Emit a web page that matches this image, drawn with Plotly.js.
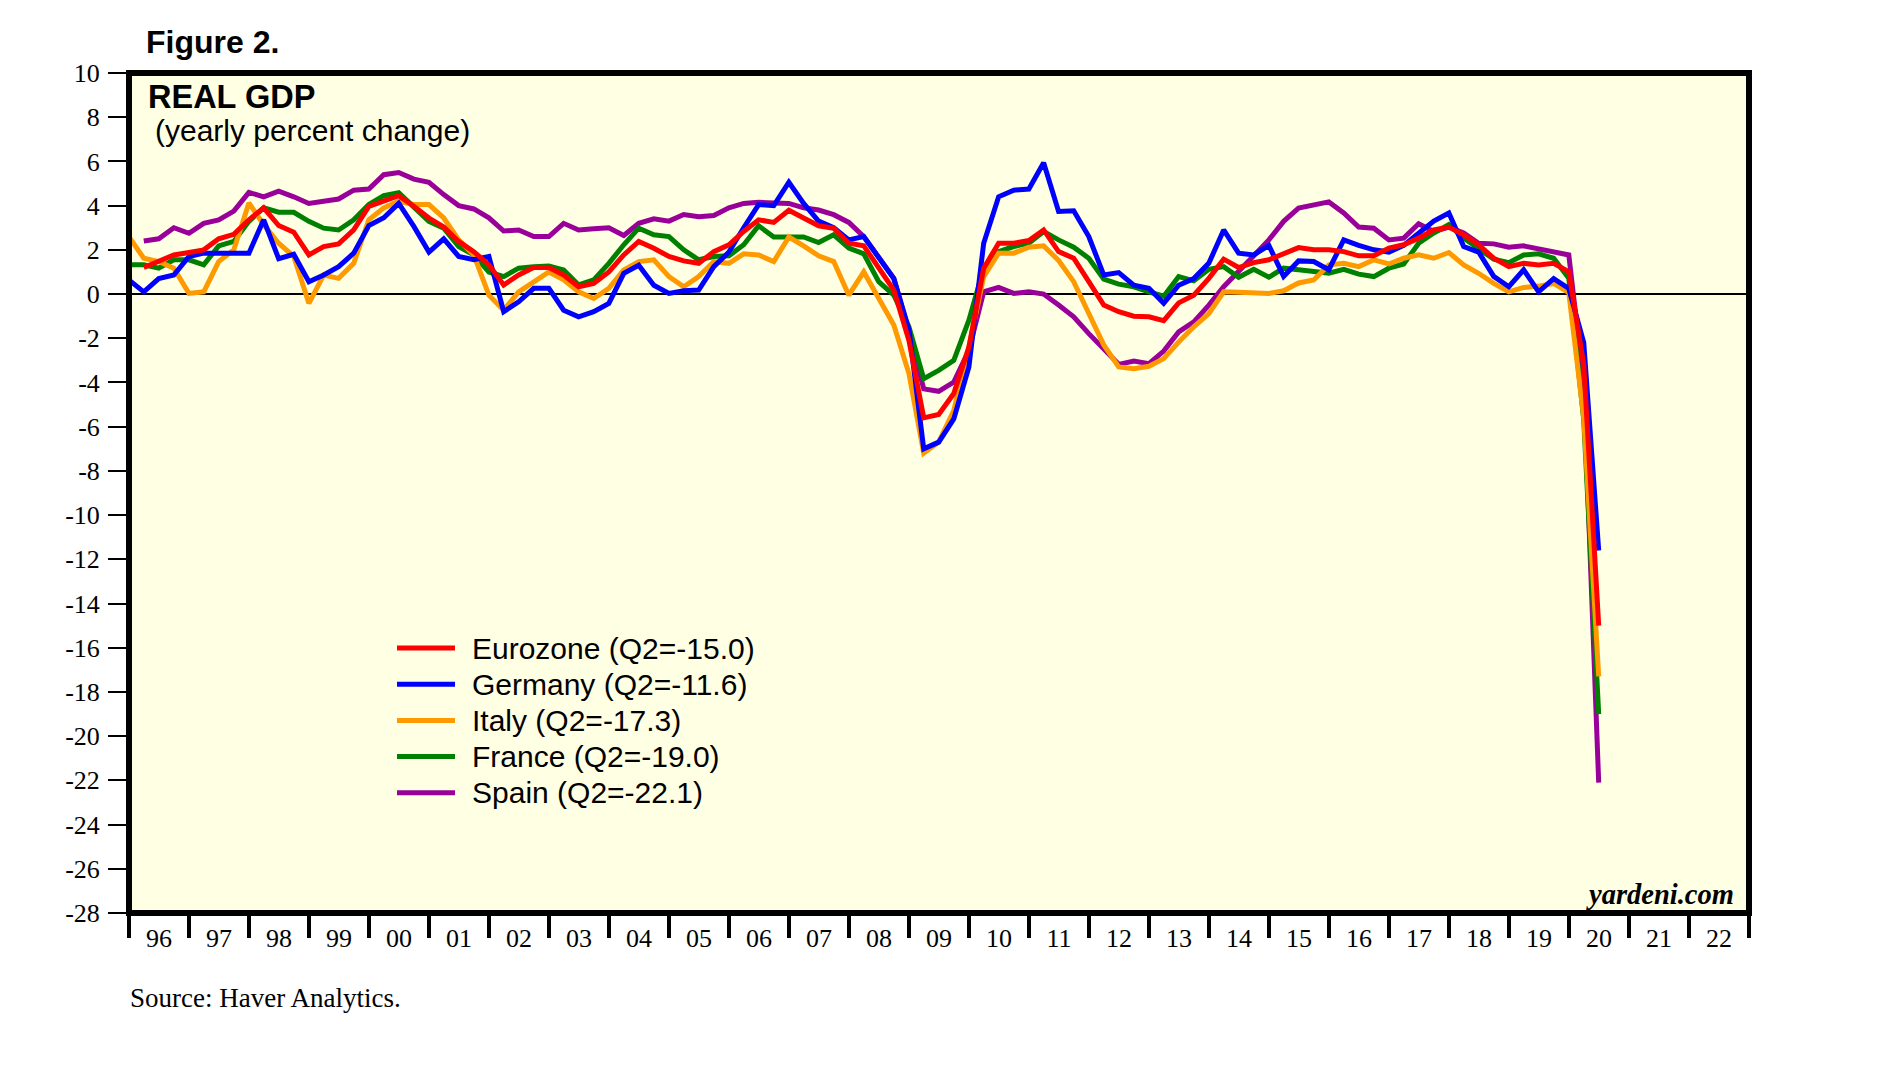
<!DOCTYPE html>
<html>
<head>
<meta charset="utf-8">
<script src="https://cdn.plot.ly/plotly-3.0.1.min.js"></script>
<style>
html, body { margin: 0; padding: 0; background: #ffffff; }
#chart { width: 1902px; height: 1085px; }
</style>
</head>
<body>
<div id="chart"></div>
<script>
// ---------------- DATA (yearly % change in real GDP, quarterly) ----------------
// Quarters run from 1995Q4 to 2020Q2 (99 quarters); each is plotted at the end of its quarter.
const firstYear = 1995;
const firstQ = 4;
const quarterCount = 99;

const seriesNames = [
  "Eurozone (Q2=-15.0)",
  "Germany (Q2=-11.6)",
  "Italy (Q2=-17.3)",
  "France (Q2=-19.0)",
  "Spain (Q2=-22.1)"
];
const seriesColors = ["#ff0000", "#0000ff", "#ff9900", "#008000", "#990099"];

const eurozone = [null,
  1.2, 1.47, 1.77, 1.88, 2.0, 2.5, 2.7, 3.36, 3.9, 3.1, 2.8, 1.77, 2.15, 2.27, 2.9, 3.97,
  4.2, 4.45, 3.97, 3.44, 3.03, 2.38, 1.92, 1.32, 0.41, 0.86, 1.2, 1.2, 0.86, 0.33, 0.48, 1.0,
  1.77, 2.38, 2.07, 1.7, 1.5, 1.39, 1.92, 2.23, 2.83, 3.36, 3.24, 3.79, 3.44, 3.09, 2.98, 2.3,
  2.18, 1.17, 0.18, -2.1, -5.6, -5.45, -4.5, -2.4, 1.17, 2.3, 2.3, 2.42, 2.9, 1.92, 1.62, 0.56,
  -0.5, -0.8, -1.0, -1.03, -1.2, -0.4, -0.05, 0.71, 1.58, 1.2, 1.42, 1.55, 1.82, 2.1, 2.0, 2.0,
  1.92, 1.73, 1.73, 2.08, 2.23, 2.53, 2.9, 3.03, 2.68, 2.23, 1.62, 1.24, 1.39, 1.32, 1.39, 1.0,
  -3.2, -15.0];

const germany = [0.64,
  0.1, 0.7, 0.86, 1.7, 1.85, 1.85, 1.85, 1.85, 3.36, 1.6, 1.8, 0.56, 0.86, 1.24, 1.85, 3.1,
  3.45, 4.1, 3.06, 1.9, 2.5, 1.7, 1.55, 1.7, -0.8, -0.35, 0.26, 0.26, -0.73, -1.03, -0.8, -0.42,
  0.94, 1.3, 0.4, 0.03, 0.15, 0.18, 1.24, 1.9, 3.0, 4.05, 4.0, 5.06, 4.1, 3.3, 3.0, 2.45,
  2.6, 1.7, 0.7, -1.6, -7.0, -6.7, -5.65, -3.3, 2.3, 4.4, 4.7, 4.75, 5.94, 3.74, 3.77, 2.6,
  0.86, 0.97, 0.4, 0.26, -0.42, 0.4, 0.7, 1.4, 2.9, 1.85, 1.77, 2.2, 0.8, 1.5, 1.47, 1.1,
  2.45, 2.2, 2.0, 1.9, 2.2, 2.75, 3.3, 3.67, 2.15, 1.9, 0.8, 0.33, 1.1, 0.1, 0.7, 0.25,
  -2.2, -11.6];

const italy = [2.6,
  1.62, 1.47, 1.17, 0.03, 0.1, 1.47, 2.0, 4.12, 3.14, 2.3, 1.7, -0.42, 0.86, 0.71, 1.39, 3.36,
  3.9, 4.2, 4.05, 4.05, 3.44, 2.45, 1.77, -0.05, -0.73, 0.1, 0.56, 1.0, 0.64, 0.1, -0.2, 0.26,
  1.09, 1.47, 1.55, 0.79, 0.33, 0.79, 1.47, 1.39, 1.82, 1.77, 1.47, 2.58, 2.18, 1.73, 1.47, -0.05,
  1.0, -0.2, -1.4, -3.6, -7.2, -6.7, -5.27, -2.4, 0.79, 1.85, 1.85, 2.12, 2.18, 1.52, 0.56, -0.88,
  -2.3, -3.3, -3.38, -3.27, -2.92, -2.17, -1.48, -0.88, 0.1, 0.08, 0.06, 0.03, 0.15, 0.5, 0.64, 1.32,
  1.39, 1.24, 1.55, 1.36, 1.62, 1.77, 1.62, 1.88, 1.32, 0.94, 0.48, 0.1, 0.3, 0.36, 0.48, 0.06,
  -5.6, -17.3];

const france = [1.32,
  1.32, 1.17, 1.55, 1.55, 1.32, 2.18, 2.38, 3.29, 3.9, 3.7, 3.7, 3.29, 2.98, 2.9, 3.36, 4.05,
  4.45, 4.58, 3.97, 3.29, 2.98, 2.15, 1.77, 1.0, 0.79, 1.17, 1.24, 1.27, 1.09, 0.41, 0.64, 1.39,
  2.23, 2.98, 2.68, 2.6, 2.0, 1.55, 1.7, 1.73, 2.23, 3.09, 2.58, 2.6, 2.58, 2.33, 2.68, 2.08,
  1.82, 0.56, -0.05, -1.48, -3.83, -3.45, -3.0, -1.18, 1.17, 1.92, 2.15, 2.3, 2.83, 2.45, 2.12, 1.62,
  0.67, 0.45, 0.33, 0.1, -0.1, 0.79, 0.6, 1.12, 1.24, 0.76, 1.12, 0.76, 1.17, 1.1, 1.0, 0.94,
  1.12, 0.9, 0.79, 1.17, 1.36, 2.3, 2.76, 3.14, 2.53, 2.08, 1.58, 1.42, 1.77, 1.82, 1.62, 0.71,
  -5.7, -19.0];

const spain = [null,
  2.4, 2.5, 3.0, 2.75, 3.2, 3.35, 3.75, 4.6, 4.4, 4.65, 4.4, 4.1, 4.2, 4.3, 4.7, 4.75,
  5.4, 5.5, 5.2, 5.05, 4.5, 4.0, 3.85, 3.45, 2.85, 2.9, 2.6, 2.6, 3.2, 2.9, 2.95, 3.0,
  2.65, 3.2, 3.4, 3.3, 3.6, 3.5, 3.55, 3.9, 4.1, 4.15, 4.12, 4.1, 3.9, 3.8, 3.59, 3.24,
  2.6, 1.7, 0.71, -1.7, -4.29, -4.4, -3.98, -2.55, 0.1, 0.3, 0.03, 0.1, 0.0, -0.5, -1.03, -1.79,
  -2.47, -3.18, -3.03, -3.15, -2.58, -1.71, -1.26, -0.5, 0.33, 1.0, 1.73, 2.45, 3.29, 3.89, 4.05, 4.17,
  3.67, 3.03, 2.98, 2.45, 2.53, 3.18, 2.83, 3.03, 2.76, 2.3, 2.27, 2.12, 2.18, 2.03, 1.92, 1.77,
  -4.1, -22.1];

const yearLabelsFormat = "%y";
const yTickValues = [10, 8, 6, 4, 2, 0, -2, -4, -6, -8, -10, -12, -14, -16, -18, -20, -22, -24, -26, -28];

// ---------------- quarter dates (end of each quarter) ----------------
const quarterEnd = ["03-31", "06-30", "09-30", "12-31"];
const quarterDates = [];
for (let i = 0, y = firstYear, q = firstQ; i < quarterCount; i++) {
  quarterDates.push(y + "-" + quarterEnd[q - 1]);
  q++; if (q > 4) { q = 1; y++; }
}

const seriesValues = [eurozone, germany, italy, france, spain];

// draw order: Spain first ... Eurozone last (on top)
const traces = [];
for (let i = seriesValues.length - 1; i >= 0; i--) {
  traces.push({
    type: "scatter",
    mode: "lines",
    name: seriesNames[i],
    x: quarterDates,
    y: seriesValues[i],
    line: { color: seriesColors[i], width: 5 },
    connectgaps: false,
    hoverinfo: "skip",
    showlegend: false
  });
}
// invisible companion trace so that the year-label axis (x2) is drawn
traces.push({
  type: "scatter", mode: "lines", x: quarterDates, y: germany,
  xaxis: "x2", yaxis: "y", opacity: 0, line: { width: 0 },
  hoverinfo: "skip", showlegend: false
});

// ---------------- layout ----------------
const W = 1902, H = 1085;
const plotL = 129, plotR = 1749, plotT = 73, plotB = 913;
const px = v => (v - plotL) / (plotR - plotL);
const py = v => (plotB - v) / (plotB - plotT);

const serif = "Liberation Serif, Times New Roman, serif";
const sans = "Liberation Sans, Arial, sans-serif";

const annotations = [
  { text: "<b>Figure 2.</b>", x: px(144), y: py(42), xanchor: "left", yanchor: "middle",
    font: { family: sans, size: 32, color: "#000" } },
  { text: "<b>REAL GDP</b>", x: px(146), y: py(97), xanchor: "left", yanchor: "middle",
    font: { family: sans, size: 32.5, color: "#000" } },
  { text: "(yearly percent change)", x: px(153), y: py(131), xanchor: "left", yanchor: "middle",
    font: { family: sans, size: 30, color: "#000" } },
  { text: "<b><i>yardeni.com</i></b>", x: px(1736), y: py(894), xanchor: "right", yanchor: "middle",
    font: { family: serif, size: 28.5, color: "#000" } },
  { text: "Source: Haver Analytics.", x: px(128), y: py(998), xanchor: "left", yanchor: "middle",
    font: { family: serif, size: 27, color: "#000" } }
];

const shapes = [];
// custom legend
const legendRow0 = 648, legendRowGap = 36.2;
for (let i = 0; i < seriesNames.length; i++) {
  const yy = legendRow0 + i * legendRowGap;
  shapes.push({ type: "line", xref: "paper", yref: "paper",
    x0: px(397), x1: px(455), y0: py(yy), y1: py(yy),
    line: { color: seriesColors[i], width: 5 } });
  annotations.push({ text: seriesNames[i], x: px(470), y: py(yy), xanchor: "left", yanchor: "middle",
    showarrow: false, font: { family: sans, size: 30, color: "#000" } });
}
annotations.forEach(a => { a.xref = "paper"; a.yref = "paper"; a.showarrow = false; });

// plot frame
shapes.push({ type: "rect", xref: "paper", yref: "paper", x0: 0, x1: 1, y0: 0, y1: 1,
  line: { color: "#000", width: 6 }, layer: "above" });

const xRange = ["1996-01-01", "2023-01-01"];

const layout = {
  width: W, height: H,
  margin: { l: plotL, r: W - plotR, t: plotT, b: H - plotB, pad: 0 },
  paper_bgcolor: "#ffffff",
  plot_bgcolor: "#ffffe3",
  showlegend: false,
  xaxis: {
    type: "date", range: xRange, tick0: "1996-01-01", dtick: "M12",
    ticks: "outside", ticklen: 24, tickwidth: 4, tickcolor: "#000",
    showticklabels: false, showgrid: false, zeroline: false, showline: false,
    fixedrange: true
  },
  xaxis2: {
    type: "date", range: xRange, overlaying: "x", anchor: "y", side: "bottom",
    tick0: "1996-01-01", dtick: "M12", ticklabelmode: "period", tickformat: yearLabelsFormat,
    ticks: "", showgrid: false, zeroline: false, showline: false,
    ticklabelstandoff: 7,
    tickfont: { family: serif, size: 26, color: "#000" },
    fixedrange: true
  },
  yaxis: {
    range: [-28, 10], tickvals: yTickValues, ticktext: yTickValues.map(String),
    ticks: "outside", ticklen: 20, tickwidth: 2, tickcolor: "#000",
    ticklabelstandoff: 3,
    tickfont: { family: serif, size: 26, color: "#000" },
    showgrid: false, zeroline: true, zerolinecolor: "#000", zerolinewidth: 1.5,
    showline: false, fixedrange: true
  },
  yaxis2: {
    range: [-28, 10], tickvals: yTickValues, ticktext: yTickValues.map(String),
    overlaying: "y", side: "right", anchor: "x",
    ticks: "outside", ticklen: 20, tickwidth: 2, tickcolor: "#000",
    ticklabelstandoff: 4,
    tickfont: { family: serif, size: 26, color: "#000" },
    showgrid: false, zeroline: false, showline: false, fixedrange: true
  },
  annotations: annotations,
  shapes: shapes
};

Plotly.newPlot("chart", traces, layout, { displayModeBar: false, staticPlot: true });
</script>
</body>
</html>
